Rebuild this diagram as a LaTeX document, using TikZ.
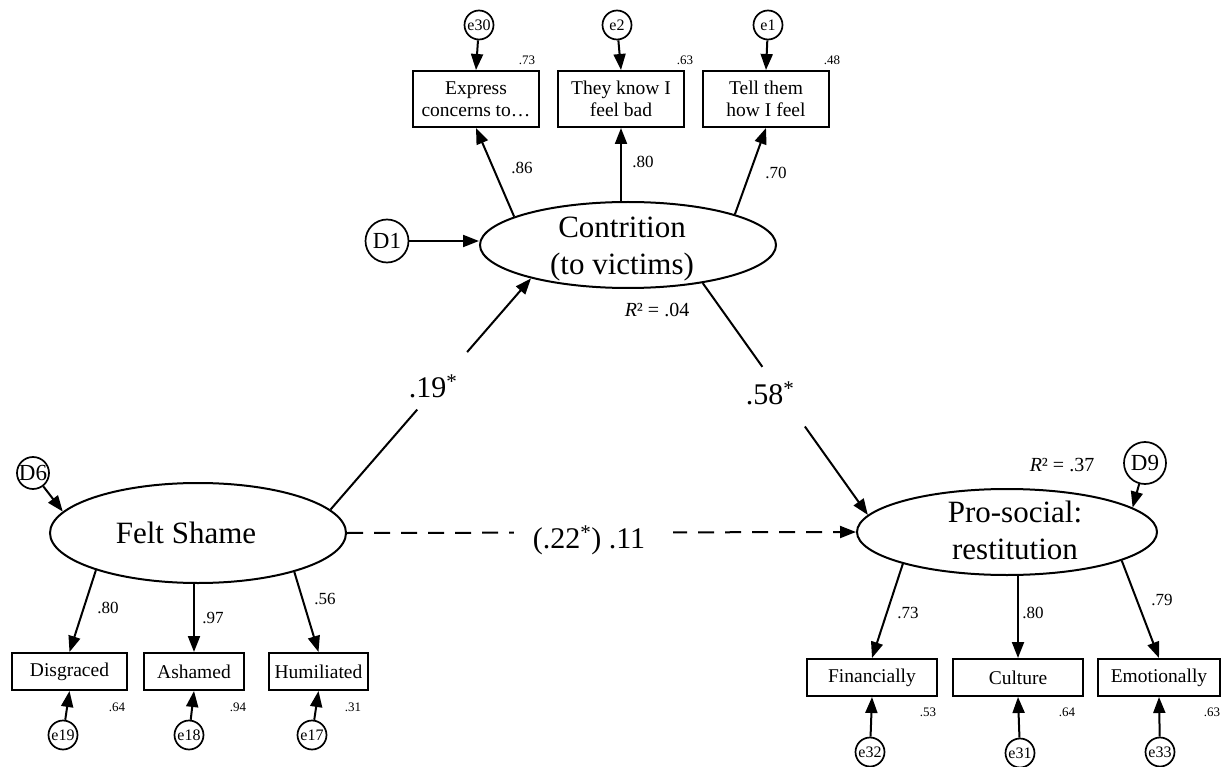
\documentclass[tikz,border=0pt]{standalone}
\usepackage{fontspec}
\setmainfont{Liberation Serif}
\usetikzlibrary{arrows.meta,shapes.geometric}

\tikzset{
  lat/.style={draw, ellipse, line width=2pt, inner sep=0pt},
  latname/.style={inner sep=0pt, align=center, font=\fontsize{31}{37}\selectfont},
  obs/.style={draw, rectangle, line width=2pt, inner sep=0pt, align=center,
    font=\fontsize{19.5}{22}\selectfont},
  err/.style={draw, circle, line width=1.7pt, inner sep=0pt, minimum size=29pt,
    font=\fontsize{16}{16}\selectfont},
  dist/.style={draw, circle, line width=1.7pt, inner sep=0pt,
    font=\fontsize{23}{23}\selectfont},
  load/.style={inner sep=0pt, font=\fontsize{17}{17}\selectfont},
  rsq/.style={inner sep=0pt, font=\fontsize{13}{13}\selectfont},
  rbig/.style={inner sep=0pt, font=\fontsize{20}{20}\selectfont},
  coef/.style={inner sep=0pt, font=\fontsize{30}{30}\selectfont},
  reg/.style={line width=2pt, -{Triangle[length=16pt,width=12pt]}},
  mask/.style={fill=white, inner sep=0pt},
}

\begin{document}
\begin{tikzpicture}[x=1pt,y=-1pt]
\useasboundingbox (0,0) rectangle (1226,767);

% latent variables
\node[lat, minimum width=296pt, minimum height=86pt] (contr) at (628,245) {};
\node[latname] (contrtxt) at (622,249) {Contrition\\(to victims)};
\node[lat, minimum width=296pt, minimum height=100pt] (fs) at (198,533) {};
\node[latname] (fstxt) at (186,533) {Felt Shame};
\node[lat, minimum width=300pt, minimum height=86pt] (pro) at (1007,532) {};
\node[latname] (protxt) at (1015,530) {Pro-social:\\restitution};

% disturbances
\node[dist, minimum size=43pt] (D1) at (387,241) {D1};
\node[dist, minimum size=32pt] (D6) at (33,473) {D6};
\node[dist, minimum size=42pt] (D9) at (1145,463) {D9};

% indicators of contrition
\node[obs, minimum width=126pt, minimum height=56pt] (expr) at (476,99) {Express\\concerns to…};
\node[obs, minimum width=126pt, minimum height=56pt] (know) at (621,99) {They know I\\feel bad};
\node[obs, minimum width=126pt, minimum height=56pt] (tell) at (766,99) {Tell them\\how I feel};

% indicators of felt shame
\node[obs, minimum width=115pt, minimum height=37pt] (disg) at (69.5,671.5) {Disgraced};
\node[obs, minimum width=100pt, minimum height=37pt] (ash) at (194,671.5) {Ashamed};
\node[obs, minimum width=99pt, minimum height=37pt] (hum) at (318.5,671.5) {Humiliated};

% indicators of restitution
\node[obs, minimum width=130pt, minimum height=37pt] (fin) at (872,677.5) {Financially};
\node[obs, minimum width=130pt, minimum height=37pt] (cul) at (1018,677.5) {Culture};
\node[obs, minimum width=122pt, minimum height=37pt] (emo) at (1159,677.5) {Emotionally};

% measurement errors
\node[err] (e30) at (479,25) {e30};
\node[err] (e2) at (617,25) {e2};
\node[err] (e1) at (768,25) {e1};
\node[err] (e19) at (63,735) {e19};
\node[err] (e18) at (189,735) {e18};
\node[err] (e17) at (312,735) {e17};
\node[err] (e32) at (870,752) {e32};
\node[err] (e31) at (1020,753) {e31};
\node[err] (e33) at (1160,752) {e33};

% error and disturbance paths
\draw[reg] (e30) -- (expr.north);
\draw[reg] (e2) -- (know.north);
\draw[reg] (e1) -- (tell.north);
\draw[reg] (e19) -- (disg.south);
\draw[reg] (e18) -- (ash.south);
\draw[reg] (e17) -- (hum.south);
\draw[reg] (e32) -- (fin.south);
\draw[reg] (e31) -- (cul.south);
\draw[reg] (e33) -- (emo.south);
\draw[reg] (D1.east) -- (D1 -| contr.west);
\draw[reg] (D6) -- (fs.171);
\draw[reg] (D9) -- (pro.11);

% loadings
\draw[reg] (contr.166) -- (expr.south);
\draw[reg] (know.south |- contr.north) -- (know.south);
\draw[reg] (contr.16) -- (tell.south);
\draw[reg] (fs.200) -- (disg.north);
\draw[reg] (ash.north |- fs.south) -- (ash.north);
\draw[reg] (fs.-22) -- (hum.north);
\draw[reg] (pro.197) -- (fin.north);
\draw[reg] (cul.north |- pro.south) -- (cul.north);
\draw[reg] (pro.-14) -- (emo.north);

% structural paths
\draw[reg] (fs.10) -- node[mask, circle, pos=.557, minimum size=76pt] {} (contr.199);
\draw[reg] (contr.-27) -- node[mask, circle, pos=.49, minimum size=73pt] {} (pro.173);
\draw[reg, dash pattern=on 16pt off 11pt] (fs.east) -- node[mask, pos=.484, minimum width=159pt, minimum height=20pt] {} (pro.west);

\node[coef] (c1) at (433,386) {.19\textsuperscript{*}};
\node[coef] (c2) at (770,393) {.58\textsuperscript{*}};
\node[coef] (c3) at (589,540) {(.22\textsuperscript{*}) .11};

% loading values
\node[load] at (522,168) {.86};
\node[load] at (643,162) {.80};
\node[load] at (776,173) {.70};
\node[load] at (108,608) {.80};
\node[load] at (213,618) {.97};
\node[load] at (325,599) {.56};
\node[load] at (908,613) {.73};
\node[load] at (1033,613) {.80};
\node[load] at (1162,600) {.79};

% squared multiple correlations
\node[rsq] at (527,60) {.73};
\node[rsq] at (685,60) {.63};
\node[rsq] at (832,60) {.48};
\node[rsq] at (117,707) {.64};
\node[rsq] at (238,707) {.94};
\node[rsq] at (353,707) {.31};
\node[rsq] at (928,712) {.53};
\node[rsq] at (1067,712) {.64};
\node[rsq] at (1212,712) {.63};
\node[rbig] at (657,310) {\textit{R}² = .04};
\node[rbig] at (1062,465) {\textit{R}² = .37};
\end{tikzpicture}
\end{document}
